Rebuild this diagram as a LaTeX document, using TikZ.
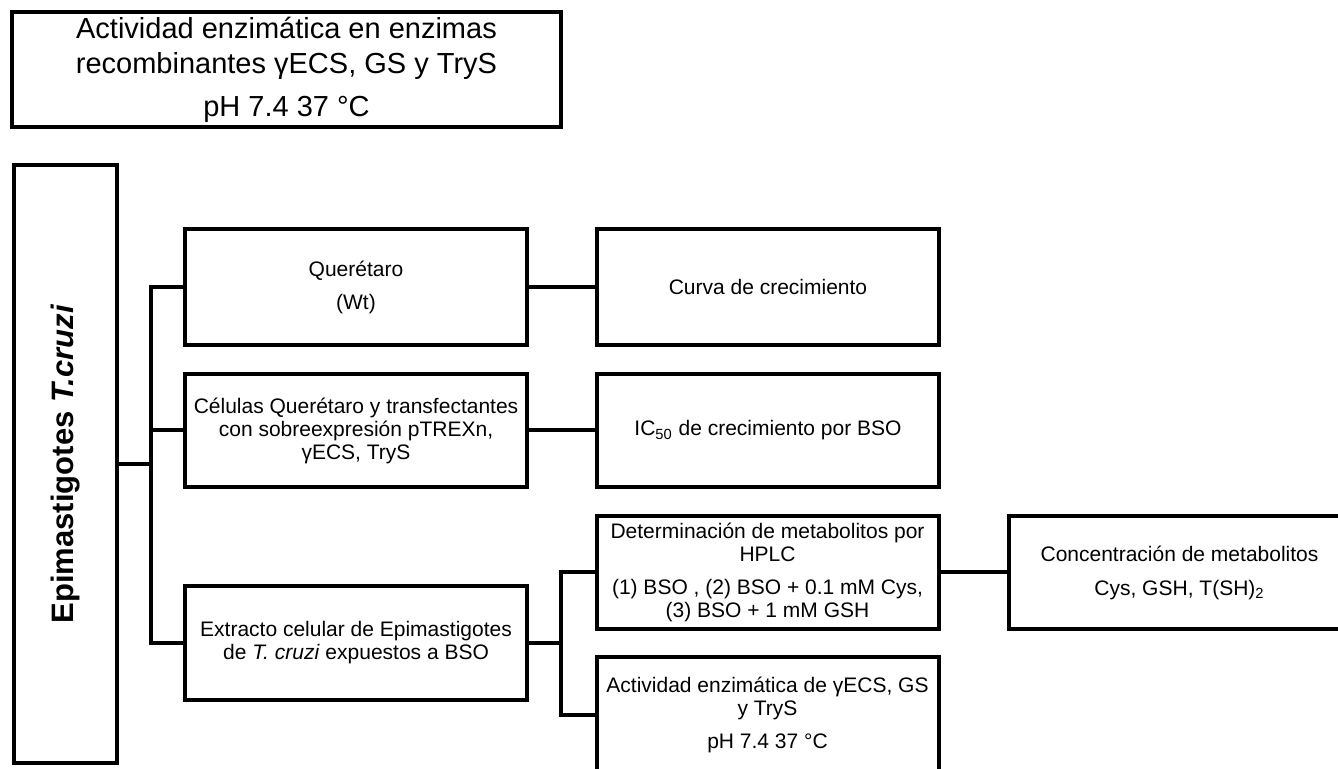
\documentclass[tikz,border=0pt]{standalone}
\usepackage{fontspec}
\setmainfont{Liberation Sans}
\tikzset{
  caja/.style={draw,line width=2pt,align=center,inner sep=0pt,
    minimum width=171pt,minimum height=57pt,
    font=\fontsize{10.5}{11.5}\selectfont},
  linea/.style={line width=2pt}
}
\begin{document}
\begin{tikzpicture}[x=0.5pt,y=-0.5pt]
\useasboundingbox (0,0) rectangle (1338,769);
\clip (0,0) rectangle (1338,769);

\node [caja,minimum width=274.5pt,minimum height=57.5pt,font=\fontsize{14.5}{17.5}\selectfont] (titulo) at (286.5,69.5)
  {Actividad enzimática en enzimas\\recombinantes γECS, GS y TryS\\[4pt]pH 7.4 37 °C};
\node [caja,minimum width=51.5pt,minimum height=299pt] (epi) at (65.5,464) {};
\node [rotate=90,font=\fontsize{15.5}{17}\selectfont\bfseries] (epitexto) at (epi.center) {Epimastigotes \textit{T.cruzi}};

\node [caja,minimum height=58pt] (quer) at (356,287) {Querétaro\\[5pt](Wt)};
\node [caja,minimum height=56.5pt] (celulas) at (356,430.5)
  {Células Querétaro y transfectantes\\con sobreexpresión pTREXn,\\γECS, TryS};
\node [caja] (extracto) at (356,643)
  {Extracto celular de Epimastigotes\\de \textit{T. cruzi} expuestos a BSO};

\node [caja,minimum height=58pt] (curva) at (768,287) {Curva de crecimiento};
\node [caja,minimum height=56.5pt] (ic) at (768,430.5) {IC\textsubscript{50} de crecimiento por BSO};

\node [caja,minimum height=56.5pt] (hplc) at (767.5,572.5)
  {Determinación de metabolitos por\\HPLC\\[5pt](1) BSO , (2) BSO + 0.1 mM Cys,\\(3) BSO + 1 mM GSH};
\node [caja,minimum height=58pt] (activ) at (767.5,715)
  {Actividad enzimática de γECS, GS\\y TryS\\[5pt]pH 7.4 37 °C};
\node [caja,minimum height=56.5pt] (conc) at (1179.5,572.5)
  {Concentración de metabolitos\\[5.5pt]Cys, GSH, T(SH)\textsubscript{2}};

\coordinate (tronco) at (151,464);
\coordinate (subtronco) at (561,643);

\draw [linea] (epi.east) -- (tronco);
\draw [linea] (quer.west) -| (tronco) |- (extracto.west);
\draw [linea] (celulas.west) -- (celulas.west -| tronco);
\draw [linea] (quer.east) -- (curva.west);
\draw [linea] (celulas.east) -- (ic.west);
\draw [linea] (extracto.east) -- (subtronco);
\draw [linea] (hplc.west) -| (subtronco) |- (activ.west);
\draw [linea] (hplc.east) -- (conc.west);

\end{tikzpicture}
\end{document}
